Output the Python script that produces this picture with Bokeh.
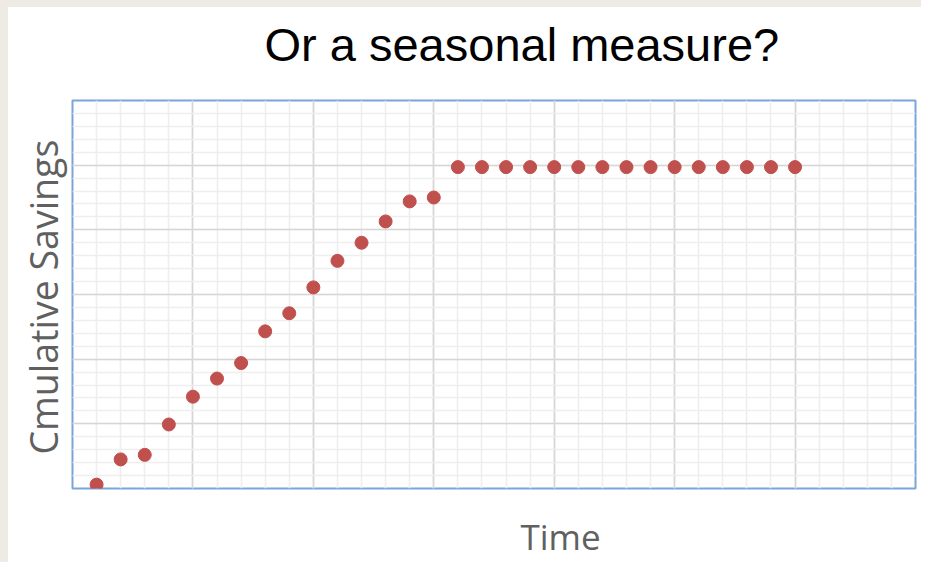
from bokeh.plotting import figure
from bokeh.models import Title, FixedTicker, Range1d
from bokeh.embed import file_html
from bokeh.resources import INLINE

# ---- data ----
periods = [1, 2, 3, 4, 5, 6, 7, 8, 9, 10,
           11, 12, 13, 14, 15, 16, 17, 18, 19, 20,
           21, 22, 23, 24, 25, 26, 27, 28, 29, 30]
cumulative_savings = [0.06, 0.45, 0.52, 0.99, 1.42, 1.70, 1.94, 2.43, 2.71, 3.11,
                      3.52, 3.80, 4.13, 4.44, 4.50, 4.97, 4.97, 4.97, 4.97, 4.97,
                      4.97, 4.97, 4.97, 4.97, 4.97, 4.97, 4.97, 4.97, 4.97, 4.97]
x_major_ticks = [0, 5, 10, 15, 20, 25, 30, 35]
x_minor_ticks = list(range(0, 36))
y_major_ticks = [0, 1, 2, 3, 4, 5, 6]
y_minor_ticks = [i / 5 for i in range(0, 31)]

title_text = "Or a seasonal measure?"
x_label_text = "Time"
y_label_text = "Cmulative Savings"

W, H = 921, 562
p = figure(width=W, height=H, output_backend="svg", toolbar_location=None,
           x_range=Range1d(0, 35), y_range=Range1d(0, 6),
           min_border_left=64, min_border_right=14,
           min_border_top=93, min_border_bottom=81)
p.styles = {"border-left": "8px solid #eeebe4", "border-top": "7px solid #eeebe4"}
p.background_fill_color = "white"
p.border_fill_color = "white"
p.outline_line_color = "#7ba4da"
p.outline_line_width = 2
p.xaxis.visible = False
p.yaxis.visible = False

p.xgrid.ticker = FixedTicker(ticks=x_major_ticks, minor_ticks=x_minor_ticks)
p.ygrid.ticker = FixedTicker(ticks=y_major_ticks, minor_ticks=y_minor_ticks)
for g in (p.xgrid, p.ygrid):
    g.grid_line_color = "#d6d6d6"
    g.grid_line_width = 1.6
    g.minor_grid_line_color = "#eeeeee"
    g.minor_grid_line_width = 1.6

p.scatter(periods, cumulative_savings, size=13, color="#c0504d", line_color="#c0504d")

# spacers (nearest the frame) then the visible texts
p.add_layout(Title(text=" ", text_font_size="1px", standoff=19), "above")
p.add_layout(Title(text=title_text, align="left", offset=192, standoff=15,
                   text_font="Liberation Sans", text_font_size="47px",
                   text_font_style="normal", text_color="black"), "above")
p.add_layout(Title(text=" ", text_font_size="1px", standoff=14), "below")
p.add_layout(Title(text=x_label_text, align="left", offset=448, standoff=10,
                   text_font="Open Sans", text_font_size="35px",
                   text_font_style="normal", text_color="#606060"), "below")
p.add_layout(Title(text=y_label_text, align="left", offset=34, standoff=7,
                   text_font="Open Sans", text_font_size="37.5px",
                   text_font_style="normal", text_color="#606060"), "left")

open("out.html", "w").write(file_html(p, INLINE))
